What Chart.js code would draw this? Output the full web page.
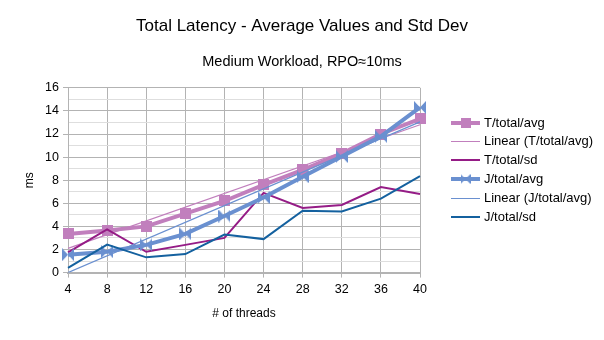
<!DOCTYPE html>
<html>
<head>
<meta charset="utf-8">
<script src="https://cdn.jsdelivr.net/npm/chart.js@4"></script>
<style>
  html, body { margin: 0; padding: 0; background: #fff; }
  #wrap { width: 604px; height: 340px; }
</style>
</head>
<body>
<div id="wrap"><canvas id="chart" width="604" height="340"></canvas></div>
<script>
// values
const threads = ["4", "8", "12", "16", "20", "24", "28", "32", "36", "40"];
const tAvg = [3.35, 3.65, 4.0, 5.1, 6.2, 7.6, 8.9, 10.3, 12.0, 13.3];
const tSd = [1.75, 3.75, 1.8, 2.4, 3.0, 6.9, 5.6, 5.85, 7.4, 6.8];
const jAvg = [1.55, 1.8, 2.4, 3.35, 4.9, 6.5, 8.3, 10.05, 11.8, 14.3];
const jSd = [0.4, 2.42, 1.32, 1.6, 3.3, 2.9, 5.35, 5.3, 6.4, 8.35];
// trend lines: only the two ends are read, the line is straight between them
const tTrend = [2.1, null, null, null, null, null, null, null, null, 12.8];
const jTrend = [0.0, null, null, null, null, null, null, null, null, 13.05];

const PINK = "#c17fbd";
const PURPLE = "#951c86";
const BLUE = "#6a90d0";
const NAVY = "#14619f";
const FONT = "'Liberation Sans', Arial, sans-serif";

function squareMarker(size, color) {
  const c = document.createElement("canvas");
  c.width = size;
  c.height = size;
  const g = c.getContext("2d");
  g.fillStyle = color;
  g.fillRect(0, 0, size, size);
  return c;
}

function bowtieMarker(w, h, color) {
  const c = document.createElement("canvas");
  c.width = w;
  c.height = h;
  const g = c.getContext("2d");
  g.fillStyle = color;
  g.beginPath();
  g.moveTo(0, 0);
  g.lineTo(w / 2, h / 2);
  g.lineTo(0, h);
  g.closePath();
  g.moveTo(w, 0);
  g.lineTo(w / 2, h / 2);
  g.lineTo(w, h);
  g.closePath();
  g.fill();
  return c;
}

const sq = squareMarker(11, PINK);
const bow = bowtieMarker(12, 13, BLUE);

// legend drawn by hand so each entry shows line + marker like the original
const legendItems = [
  { text: "T/total/avg", color: PINK, width: 4, marker: squareMarker(10, PINK) },
  { text: "Linear (T/total/avg)", color: PINK, width: 1 },
  { text: "T/total/sd", color: PURPLE, width: 2 },
  { text: "J/total/avg", color: BLUE, width: 4, marker: bowtieMarker(10, 10, BLUE) },
  { text: "Linear (J/total/avg)", color: BLUE, width: 1 },
  { text: "J/total/sd", color: NAVY, width: 2 },
];

const sideLegend = {
  id: "sideLegend",
  afterDraw(chart) {
    const ctx = chart.ctx;
    ctx.save();
    ctx.font = "13px " + FONT;
    ctx.textBaseline = "middle";
    ctx.fillStyle = "#000";
    legendItems.forEach((item, i) => {
      const y = Math.round(122.5 + i * 18.9);
      const ly = item.width % 2 === 1 ? y + 0.5 : y;
      ctx.strokeStyle = item.color;
      ctx.lineWidth = item.width;
      ctx.beginPath();
      ctx.moveTo(451, ly);
      ctx.lineTo(480, ly);
      ctx.stroke();
      if (item.marker) {
        ctx.drawImage(item.marker, 465.5 - item.marker.width / 2, y - item.marker.height / 2);
      }
      ctx.fillText(item.text, 484, y + 0.5);
    });
    ctx.restore();
  },
};

new Chart(document.getElementById("chart"), {
  type: "line",
  data: {
    labels: threads,
    datasets: [
      {
        label: "T/total/avg",
        data: tAvg,
        borderColor: PINK,
        backgroundColor: PINK,
        borderWidth: 4,
        pointStyle: sq,
        order: 6,
      },
      {
        label: "Linear (T/total/avg)",
        data: tTrend,
        borderColor: PINK,
        borderWidth: 1.2,
        pointRadius: 0,
        spanGaps: true,
        order: 5,
      },
      {
        label: "T/total/sd",
        data: tSd,
        borderColor: PURPLE,
        borderWidth: 2,
        pointRadius: 0,
        order: 4,
      },
      {
        label: "J/total/avg",
        data: jAvg,
        borderColor: BLUE,
        backgroundColor: BLUE,
        borderWidth: 4,
        pointStyle: bow,
        order: 3,
      },
      {
        label: "Linear (J/total/avg)",
        data: jTrend,
        borderColor: BLUE,
        borderWidth: 1.2,
        pointRadius: 0,
        spanGaps: true,
        order: 2,
      },
      {
        label: "J/total/sd",
        data: jSd,
        borderColor: NAVY,
        borderWidth: 2,
        pointRadius: 0,
        order: 1,
      },
    ],
  },
  options: {
    responsive: false,
    animation: false,
    layout: {
      padding: { left: 0, right: 0, top: 0, bottom: 15 },
    },
    elements: {
      line: { tension: 0 },
    },
    plugins: {
      legend: { display: false },
      tooltip: { enabled: false },
      title: {
        display: true,
        text: "Total Latency - Average Values and Std Dev",
        color: "#000",
        font: { family: FONT, size: 17, weight: "normal" },
        padding: { top: 16, bottom: 8 },
      },
      subtitle: {
        display: true,
        text: "Medium Workload, RPO≈10ms",
        color: "#000",
        font: { family: FONT, size: 14.5, weight: "normal" },
        padding: { top: 9, bottom: 17 },
      },
    },
    scales: {
      x: {
        offset: false,
        grid: {
          color: "#b3b3b3",
          tickColor: "#b3b3b3",
          tickLength: 5,
        },
        border: { color: "#b3b3b3", width: 2 },
        ticks: {
          color: "#000",
          font: { family: FONT, size: 12.5 },
          padding: 4,
          maxRotation: 0,
        },
        title: {
          display: true,
          text: "# of threads",
          color: "#000",
          font: { family: FONT, size: 12 },
          padding: { top: 6, bottom: 4 },
        },
      },
      y: {
        min: 0,
        max: 16,
        afterFit(scale) {
          scale.width = 68;
        },
        grid: {
          color: (c) => (c.tick && c.tick.value % 2 === 0 ? "#b3b3b3" : "#dedede"),
          tickColor: (c) => (c.tick && c.tick.value % 2 === 0 ? "#b3b3b3" : "rgba(0,0,0,0)"),
          tickLength: 5,
        },
        border: { color: "#b3b3b3", width: 1 },
        ticks: {
          stepSize: 1,
          autoSkip: false,
          color: "#000",
          font: { family: FONT, size: 12.5 },
          padding: 4,
          callback: (v) => (v % 2 === 0 ? v : ""),
        },
        title: {
          display: true,
          text: "ms",
          color: "#000",
          font: { family: FONT, size: 12 },
          padding: { top: 22, bottom: 4 },
        },
      },
      // empty axis on the right only keeps room for the hand-drawn legend
      space: {
        type: "linear",
        position: "right",
        afterFit(scale) {
          scale.width = 184;
        },
        grid: { drawOnChartArea: false, drawTicks: false },
        border: { display: false },
        ticks: { display: false },
      },
    },
  },
  plugins: [sideLegend],
});
</script>
</body>
</html>
